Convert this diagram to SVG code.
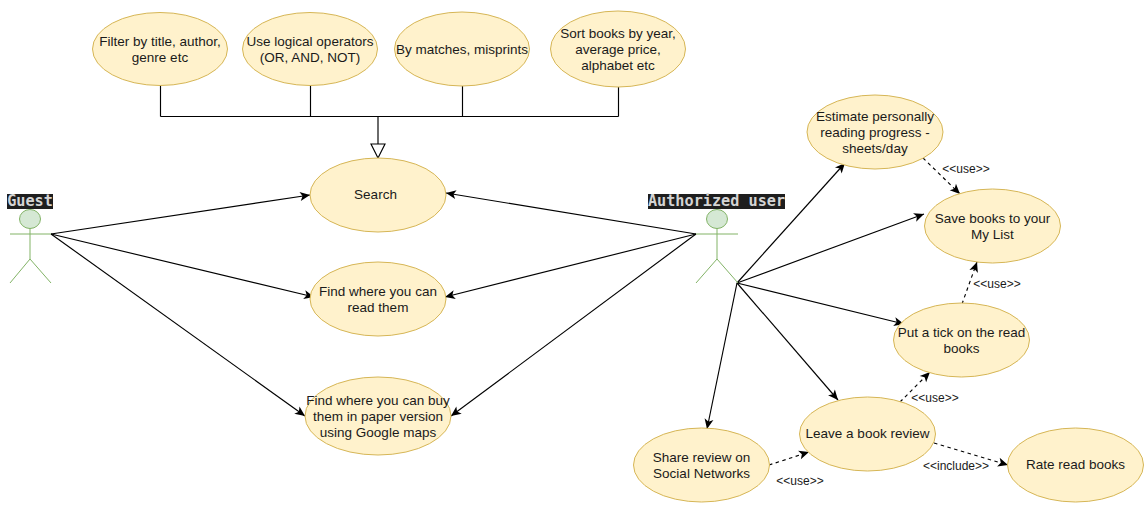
<svg xmlns="http://www.w3.org/2000/svg" width="1148" height="521" viewBox="0 0 1148 521">
<style>
.uc ellipse{fill:#fff2cc;stroke:#d6b656;stroke-width:1}
text{font-family:"Liberation Sans",Arial,sans-serif;font-size:13.5px;fill:#1a1a1a;text-anchor:middle}
.lbl{font-size:12px}
.actor{fill:none;stroke:#82b366;stroke-width:1}
.actor ellipse{fill:#d5e8d4}
.atitle{font-family:"DejaVu Sans Mono",monospace;font-size:15.200px;font-weight:700;fill:#d4d4d4}
.c path{fill:none;stroke:#000;stroke-width:1.150}
.d{stroke-dasharray:3.500 3.500}
</style>
<defs>
<marker id="a" markerUnits="userSpaceOnUse" markerWidth="13" markerHeight="12" refX="11" refY="6" orient="auto"><path d="M1 1.500 L11 6 L1 10.500 L3.500 6Z" fill="#000"/></marker>
</defs>
<g id="connectors" class="c">
<path d="M160.500 85V116.500M310.500 85V116.500M462.500 86V116.500M618.500 87V116.500M160.500 116.500H618.500M378 116.500V144"/>
<path d="M371 144H385L378 158Z" fill="#fff"/>
<path d="M51 234L310 195" marker-end="url(#a)"/>
<path d="M51 234L314 297" marker-end="url(#a)"/>
<path d="M51 234L305 416" marker-end="url(#a)"/>
<path d="M696 234L446 193" marker-end="url(#a)"/>
<path d="M696 234L445 297" marker-end="url(#a)"/>
<path d="M696 234L451 416" marker-end="url(#a)"/>
<path d="M737 283L845 163" marker-end="url(#a)"/>
<path d="M737 283L924 214" marker-end="url(#a)"/>
<path d="M737 283L904 324" marker-end="url(#a)"/>
<path d="M737 283L838 400" marker-end="url(#a)"/>
<path d="M737 283L707 429" marker-end="url(#a)"/>
<path class="d" d="M923 158L960 194" marker-end="url(#a)"/>
<path class="d" d="M962 304L977 262" marker-end="url(#a)"/>
<path class="d" d="M900 402L930 372" marker-end="url(#a)"/>
<path class="d" d="M769 465L809 452" marker-end="url(#a)"/>
<path class="d" d="M934 443L1008 465" marker-end="url(#a)"/>
</g>
<g id="guest">
<rect x="7" y="194" width="46" height="15" fill="#1e1e1e"/>
<text class="atitle" x="30" y="206">Guest</text>
<g class="actor"><ellipse cx="30" cy="219" rx="10.500" ry="9.500"/><path d="M30 228.500V259M10 234H51M30 259L10 283M30 259L51 283"/></g>
</g>
<g id="authorized-user">
<rect x="648" y="194" width="137" height="15" fill="#1e1e1e"/>
<text class="atitle" x="716.500" y="206">Authorized user</text>
<g class="actor"><ellipse cx="717" cy="219" rx="10.500" ry="9.500"/><path d="M717 228.500V259M696 234H738M717 259L696 283M717 259L738 283"/></g>
</g>
<g id="filter" class="uc"><ellipse cx="160" cy="49" rx="67.500" ry="36.500"/><text x="160" y="46">Filter by title, author,</text><text x="160" y="62">genre etc</text></g>
<g id="logical" class="uc"><ellipse cx="310" cy="49" rx="67.500" ry="36.500"/><text x="310" y="46">Use logical operators</text><text x="310" y="62">(OR, AND, NOT)</text></g>
<g id="matches" class="uc"><ellipse cx="462" cy="49" rx="67.500" ry="37"/><text x="462" y="54">By matches, misprints</text></g>
<g id="sort" class="uc"><ellipse cx="618" cy="49" rx="67.500" ry="38"/><text x="618" y="38">Sort books by year,</text><text x="618" y="54">average price,</text><text x="618" y="70">alphabet etc</text></g>
<g id="search" class="uc"><ellipse cx="378" cy="195" rx="68" ry="37"/><text x="375.500" y="199">Search</text></g>
<g id="read" class="uc"><ellipse cx="378" cy="299" rx="68" ry="37"/><text x="378" y="296">Find where you can</text><text x="378" y="312">read them</text></g>
<g id="buy" class="uc"><ellipse cx="378" cy="416" rx="73" ry="39"/><text x="378" y="405">Find where you can buy</text><text x="378" y="421">them in paper version</text><text x="378" y="437">using Google maps</text></g>
<g id="estimate" class="uc"><ellipse cx="875" cy="132" rx="68" ry="37"/><text x="875" y="121">Estimate personally</text><text x="875" y="137">reading progress -</text><text x="875" y="153">sheets/day</text></g>
<g id="save" class="uc"><ellipse cx="992.500" cy="226" rx="68" ry="37"/><text x="992.500" y="223">Save books to your</text><text x="992.500" y="239">My List</text></g>
<g id="tick" class="uc"><ellipse cx="961.500" cy="340" rx="68" ry="37"/><text x="961.500" y="337">Put a tick on the read</text><text x="961.500" y="353">books</text></g>
<g id="review" class="uc"><ellipse cx="867.500" cy="434" rx="68" ry="37"/><text x="867.500" y="438">Leave a book review</text></g>
<g id="share" class="uc"><ellipse cx="701.500" cy="465" rx="68" ry="37"/><text x="701.500" y="462">Share review on</text><text x="701.500" y="478">Social Networks</text></g>
<g id="rate" class="uc"><ellipse cx="1075.500" cy="465" rx="68" ry="37"/><text x="1075.500" y="469">Rate read books</text></g>
<g id="labels">
<text class="lbl" x="966" y="173">&lt;&lt;use&gt;&gt;</text>
<text class="lbl" x="997" y="288">&lt;&lt;use&gt;&gt;</text>
<text class="lbl" x="935" y="402">&lt;&lt;use&gt;&gt;</text>
<text class="lbl" x="800" y="485">&lt;&lt;use&gt;&gt;</text>
<text class="lbl" x="956" y="470">&lt;&lt;include&gt;&gt;</text>
</g>
</svg>
